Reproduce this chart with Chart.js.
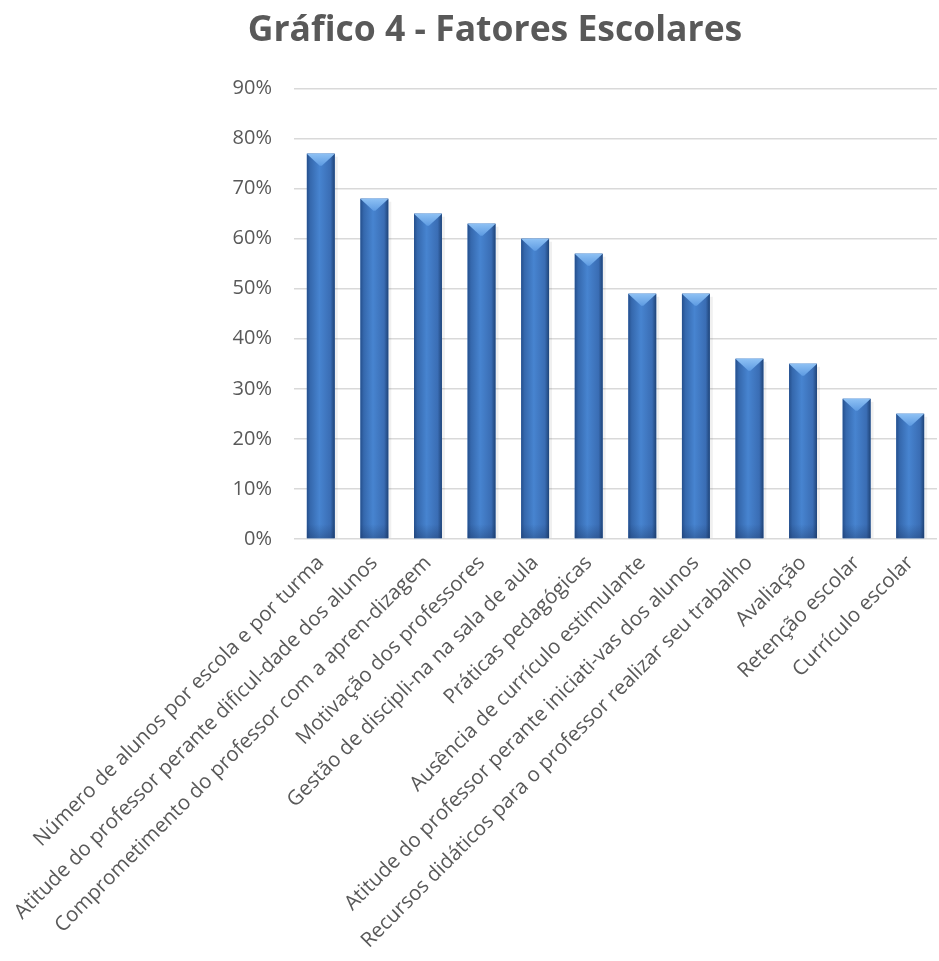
<!DOCTYPE html>
<html>
<head>
<meta charset="utf-8">
<script src="https://cdn.jsdelivr.net/npm/chart.js@4/dist/chart.umd.min.js"></script>
<style>
  html, body { margin: 0; padding: 0; background: #fff; }
  #wrap { width: 939px; height: 961px; position: relative; }
</style>
</head>
<body>
<div id="wrap"><canvas id="chart"></canvas></div>
<script>
// dados do gráfico
const categorias = [
  'Número de alunos por escola e por turma',
  'Atitude do professor perante dificul-dade dos alunos',
  'Comprometimento do professor com a apren-dizagem',
  'Motivação dos professores',
  'Gestão de discipli-na na sala de aula',
  'Práticas pedagógicas',
  'Ausência de currículo estimulante',
  'Atitude do professor perante iniciati-vas dos alunos',
  'Recursos didáticos para o professor realizar seu trabalho',
  'Avaliação',
  'Retenção escolar',
  'Currículo escolar'
];
const valores = [77, 68, 65, 63, 60, 57, 49, 49, 36, 35, 28, 25];
const ticksY = [0, 10, 20, 30, 40, 50, 60, 70, 80, 90];

const cinza = '#595959';

// efeito de bisel nas barras
const biselPlugin = {
  id: 'bisel',
  afterDatasetsDraw(chart) {
    const ctx = chart.ctx;
    const meta = chart.getDatasetMeta(0);
    meta.data.forEach((bar) => {
      const w = bar.width;
      const left = bar.x - w / 2;
      const right = bar.x + w / 2;
      const top = bar.y;
      const bottom = bar.base;
      ctx.save();
      // sombra leve à direita
      ctx.fillStyle = 'rgba(0,0,0,0.06)';
      ctx.fillRect(right, top + 3, 3, bottom - top - 3);
      // corpo com gradiente horizontal
      const g = ctx.createLinearGradient(left, 0, right, 0);
      g.addColorStop(0, '#254f8c');
      g.addColorStop(0.12, '#3568ad');
      g.addColorStop(0.45, '#4784d0');
      g.addColorStop(0.85, '#3a6db4');
      g.addColorStop(1, '#1f4478');
      ctx.fillStyle = g;
      ctx.fillRect(left, top, w, bottom - top);
      // topo claro em V
      const tg = ctx.createLinearGradient(0, top, 0, top + 12);
      tg.addColorStop(0, '#8ec1f4');
      tg.addColorStop(1, '#5e9be2');
      ctx.beginPath();
      ctx.moveTo(left, top);
      ctx.lineTo(right, top);
      ctx.lineTo(right - 2, top + 2);
      ctx.lineTo(bar.x + 1, top + 12);
      ctx.lineTo(bar.x - 1, top + 12);
      ctx.lineTo(left + 2, top + 2);
      ctx.closePath();
      ctx.fillStyle = tg;
      ctx.fill();
      // base escura
      const g2 = ctx.createLinearGradient(0, bottom - 14, 0, bottom);
      g2.addColorStop(0, 'rgba(25,50,95,0)');
      g2.addColorStop(1, 'rgba(25,50,95,0.35)');
      ctx.fillStyle = g2;
      ctx.fillRect(left, bottom - 14, w, 14);
      ctx.restore();
    });
  }
};

const ctx = document.getElementById('chart');
new Chart(ctx, {
  type: 'bar',
  data: {
    labels: categorias,
    datasets: [{
      data: valores,
      backgroundColor: '#3f78c4',
      barPercentage: 0.52,
      categoryPercentage: 1
    }]
  },
  options: {
    responsive: true,
    maintainAspectRatio: false,
    animation: false,
    layout: { padding: { left: 53, right: 2, top: 10, bottom: 4 } },
    plugins: {
      legend: { display: false },
      tooltip: { enabled: false },
      title: {
        display: true,
        text: 'Gráfico 4 - Fatores Escolares',
        color: cinza,
        font: { family: 'Open Sans', size: 35.5, weight: 'bold' },
        padding: { top: 0, bottom: 36 }
      }
    },
    scales: {
      x: {
        grid: { display: false },
        border: { display: false },
        ticks: {
          color: cinza,
          font: { family: 'Open Sans', size: 20.5 },
          minRotation: 45,
          maxRotation: 45,
          autoSkip: false,
          padding: 4
        }
      },
      y: {
        min: 0,
        max: 90,
        afterBuildTicks: (axis) => { axis.ticks = ticksY.map((v) => ({ value: v })); },
        afterFit: (axis) => { axis.width = 241; },
        grid: { color: '#d9d9d9', lineWidth: 1.5, drawTicks: false },
        border: { display: false },
        ticks: {
          color: cinza,
          font: { family: 'Open Sans', size: 20 },
          padding: 22,
          callback: (v) => v + '%'
        }
      }
    }
  },
  plugins: [biselPlugin]
});
</script>
</body>
</html>
